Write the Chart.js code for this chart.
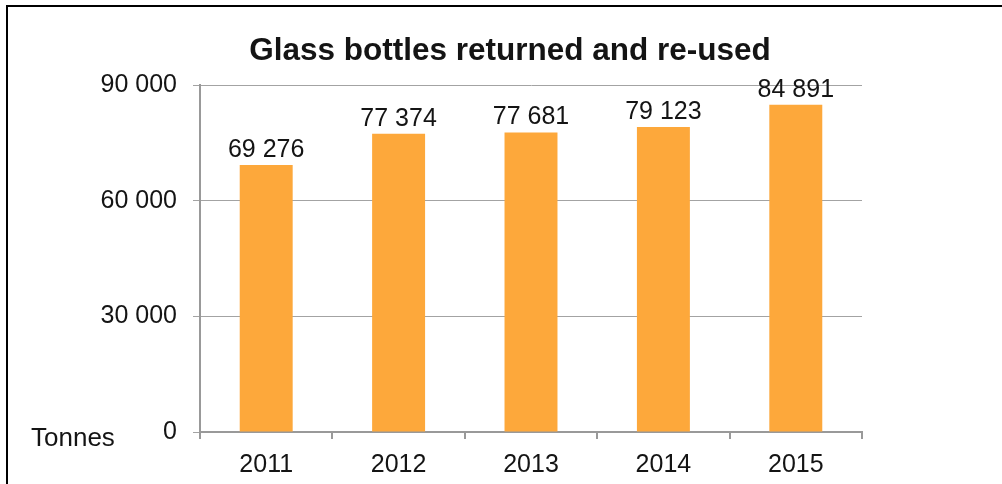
<!DOCTYPE html>
<html>
<head>
<meta charset="utf-8">
<script src="https://cdn.jsdelivr.net/npm/chart.js@4"></script>
<style>
  html, body { margin: 0; padding: 0; background: #fff; overflow: hidden; }
  #wrap { position: relative; width: 1002px; height: 484px; }
  #frame { position: absolute; left: 6px; top: 5px; width: 1200px; height: 700px; border: 2px solid #000; }
  canvas { position: absolute; left: 0; top: 0; }
</style>
</head>
<body>
<div id="wrap">
  <div id="frame"></div>
  <canvas id="chart" width="1002" height="484"></canvas>
</div>
<script>
// chart data
const years = ["2011", "2012", "2013", "2014", "2015"];
const tonnes = [69276, 77374, 77681, 79123, 84891];
const yTicks = [0, 30000, 60000, 90000];
const titleText = "Glass bottles returned and re-used";
const unitText = "Tonnes";

const FONT = "'Liberation Sans', Arial, Helvetica, sans-serif";
const TEXT = "#141414";

// 69276 -> "69 276"
function fmt(v) {
  return String(v).replace(/\B(?=(\d{3})+(?!\d))/g, " ");
}

// title, value labels and the unit label
const extras = {
  id: "extras",
  afterDatasetsDraw(chart) {
    const ctx = chart.ctx;
    ctx.save();
    ctx.fillStyle = TEXT;

    ctx.font = "bold 31.5px " + FONT;
    ctx.textAlign = "center";
    ctx.textBaseline = "middle";
    ctx.fillText(titleText, 510, 51);

    ctx.font = "25px " + FONT;
    ctx.textBaseline = "alphabetic";
    chart.getDatasetMeta(0).data.forEach((bar, i) => {
      ctx.fillText(fmt(tonnes[i]), bar.x, bar.y - 8);
    });

    ctx.textAlign = "left";
    ctx.font = "26px " + FONT;
    ctx.textBaseline = "middle";
    ctx.fillText(unitText, 31, 439);
    ctx.restore();
  }
};

new Chart(document.getElementById("chart"), {
  type: "bar",
  data: {
    labels: years,
    datasets: [{
      data: tonnes,
      backgroundColor: "#fda83b",
      categoryPercentage: 1,
      barPercentage: 0.4
    }]
  },
  options: {
    responsive: false,
    animation: false,
    layout: { padding: { top: 85, right: 140, left: 0, bottom: 0 } },
    plugins: {
      legend: { display: false },
      title: { display: false },
      tooltip: { enabled: false }
    },
    scales: {
      y: {
        min: 0,
        max: 90000,
        afterFit(scale) { scale.width = 200; },
        afterBuildTicks(scale) { scale.ticks = yTicks.map(v => ({ value: v })); },
        ticks: {
          padding: 16,
          color: TEXT,
          font: { family: FONT, size: 25 },
          callback: v => fmt(v)
        },
        grid: { color: "#a3a3a3", lineWidth: 1, tickLength: 7 },
        border: { color: "#999", width: 2 }
      },
      x: {
        afterFit(scale) { scale.height = 52; },
        ticks: {
          padding: 11,
          color: TEXT,
          font: { family: FONT, size: 25 }
        },
        grid: { drawOnChartArea: false, color: "#999", lineWidth: 2, tickLength: 7 },
        border: { color: "#999", width: 2 }
      }
    }
  },
  plugins: [extras]
});
</script>
</body>
</html>
